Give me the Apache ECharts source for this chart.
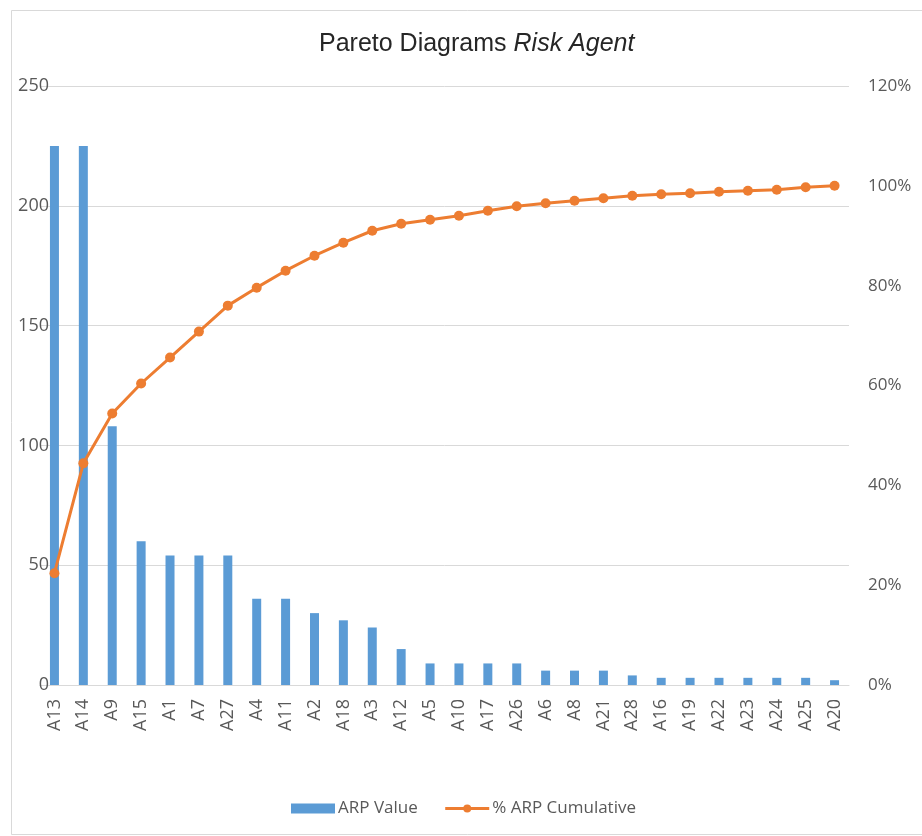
<!DOCTYPE html>
<html>
<head>
<meta charset="utf-8">
<title>Pareto Diagrams Risk Agent</title>
<script src="https://cdn.jsdelivr.net/npm/echarts@6/dist/echarts.min.js"></script>
<style>
  html, body { margin: 0; padding: 0; background: #fff; }
  #pareto-chart { width: 922px; height: 836px; }
</style>
</head>
<body>
<div id="pareto-chart"></div>
<script>
// risk agents, sorted by ARP value
const agents = ['A13', 'A14', 'A9', 'A15', 'A1', 'A7', 'A27', 'A4', 'A11', 'A2', 'A18', 'A3', 'A12', 'A5',
  'A10', 'A17', 'A26', 'A6', 'A8', 'A21', 'A28', 'A16', 'A19', 'A22', 'A23', 'A24', 'A25', 'A20']

// ARP value per agent (left axis)
const arpValues = [225, 225, 108, 60, 54, 54, 54, 36, 36, 30, 27, 24, 15, 9,
  9, 9, 9, 6, 6, 6, 4, 3, 3, 3, 3, 3, 3, 2]

// cumulative share in % (right axis)
const arpCumulative = [22.4, 44.4, 54.4, 60.4, 65.6, 70.8, 76.0, 79.6, 83.0, 86.0, 88.6, 91.0, 92.4, 93.2,
  94.0, 95.0, 95.9, 96.5, 97.0, 97.5, 98.0, 98.3, 98.5, 98.8, 99.0, 99.2, 99.7, 100]

const leftTicks = { min: 0, max: 250, interval: 50 }
const rightTicks = { min: 0, max: 120, interval: 20 }

const labelColor = '#595959'
const labelFont = '"Open Sans", "Noto Sans", sans-serif'
const titleFont = '"Liberation Sans", Arial, sans-serif'

const chart = echarts.init(document.getElementById('pareto-chart'))

chart.setOption({
  animation: false,
  backgroundColor: '#fff',
  color: ['#5B9BD5', '#ED7D31'],
  title: {
    left: 319,
    top: 32,
    padding: 0,
    text: '{n|Pareto Diagrams }{i|Risk Agent}',
    textStyle: {
      rich: {
        n: { fontFamily: titleFont, fontSize: 25, fontWeight: 'normal', color: '#262626' },
        i: { fontFamily: titleFont, fontSize: 25, fontWeight: 'normal', color: '#262626', fontStyle: 'italic' }
      }
    }
  },
  graphic: [{
    type: 'rect',
    shape: { x: 11.5, y: 10.5, width: 940, height: 824 },
    style: { fill: 'none', stroke: '#d9d9d9', lineWidth: 1 },
    silent: true,
    z: -1
  }],
  legend: {
    left: 291,
    top: 800,
    padding: 0,
    itemWidth: 44,
    itemHeight: 10,
    itemGap: 26,
    textStyle: { color: labelColor, fontFamily: labelFont, fontSize: 17, padding: [0, 0, 0, -2] },
    data: [
      { name: 'ARP Value', icon: 'rect' },
      { name: '% ARP Cumulative', lineStyle: { width: 3 } }
    ]
  },
  grid: {
    left: 40,
    right: 73,
    top: 86,
    bottom: 151,
    containLabel: false
  },
  xAxis: {
    type: 'category',
    data: agents,
    axisTick: { show: false },
    axisLine: { lineStyle: { color: '#d9d9d9' } },
    axisLabel: {
      rotate: 90,
      interval: 0,
      margin: 14,
      color: labelColor,
      fontFamily: labelFont,
      fontSize: 18
    }
  },
  yAxis: [{
    type: 'value',
    min: leftTicks.min,
    max: leftTicks.max,
    interval: leftTicks.interval,
    axisLine: { show: false },
    axisTick: { show: false },
    splitLine: { lineStyle: { color: '#d9d9d9', width: 1 } },
    axisLabel: {
      margin: -9,
      color: labelColor,
      fontFamily: labelFont,
      fontSize: 18
    }
  }, {
    type: 'value',
    min: rightTicks.min,
    max: rightTicks.max,
    interval: rightTicks.interval,
    position: 'right',
    axisLine: { show: false },
    axisTick: { show: false },
    splitLine: { show: false },
    axisLabel: {
      margin: 19,
      formatter: '{value}%',
      color: labelColor,
      fontFamily: labelFont,
      fontSize: 17
    }
  }],
  series: [{
    name: 'ARP Value',
    type: 'bar',
    yAxisIndex: 0,
    barWidth: 9,
    data: arpValues
  }, {
    name: '% ARP Cumulative',
    type: 'line',
    yAxisIndex: 1,
    symbol: 'circle',
    symbolSize: 10,
    lineStyle: { width: 3 },
    data: arpCumulative
  }]
})
</script>
</body>
</html>
